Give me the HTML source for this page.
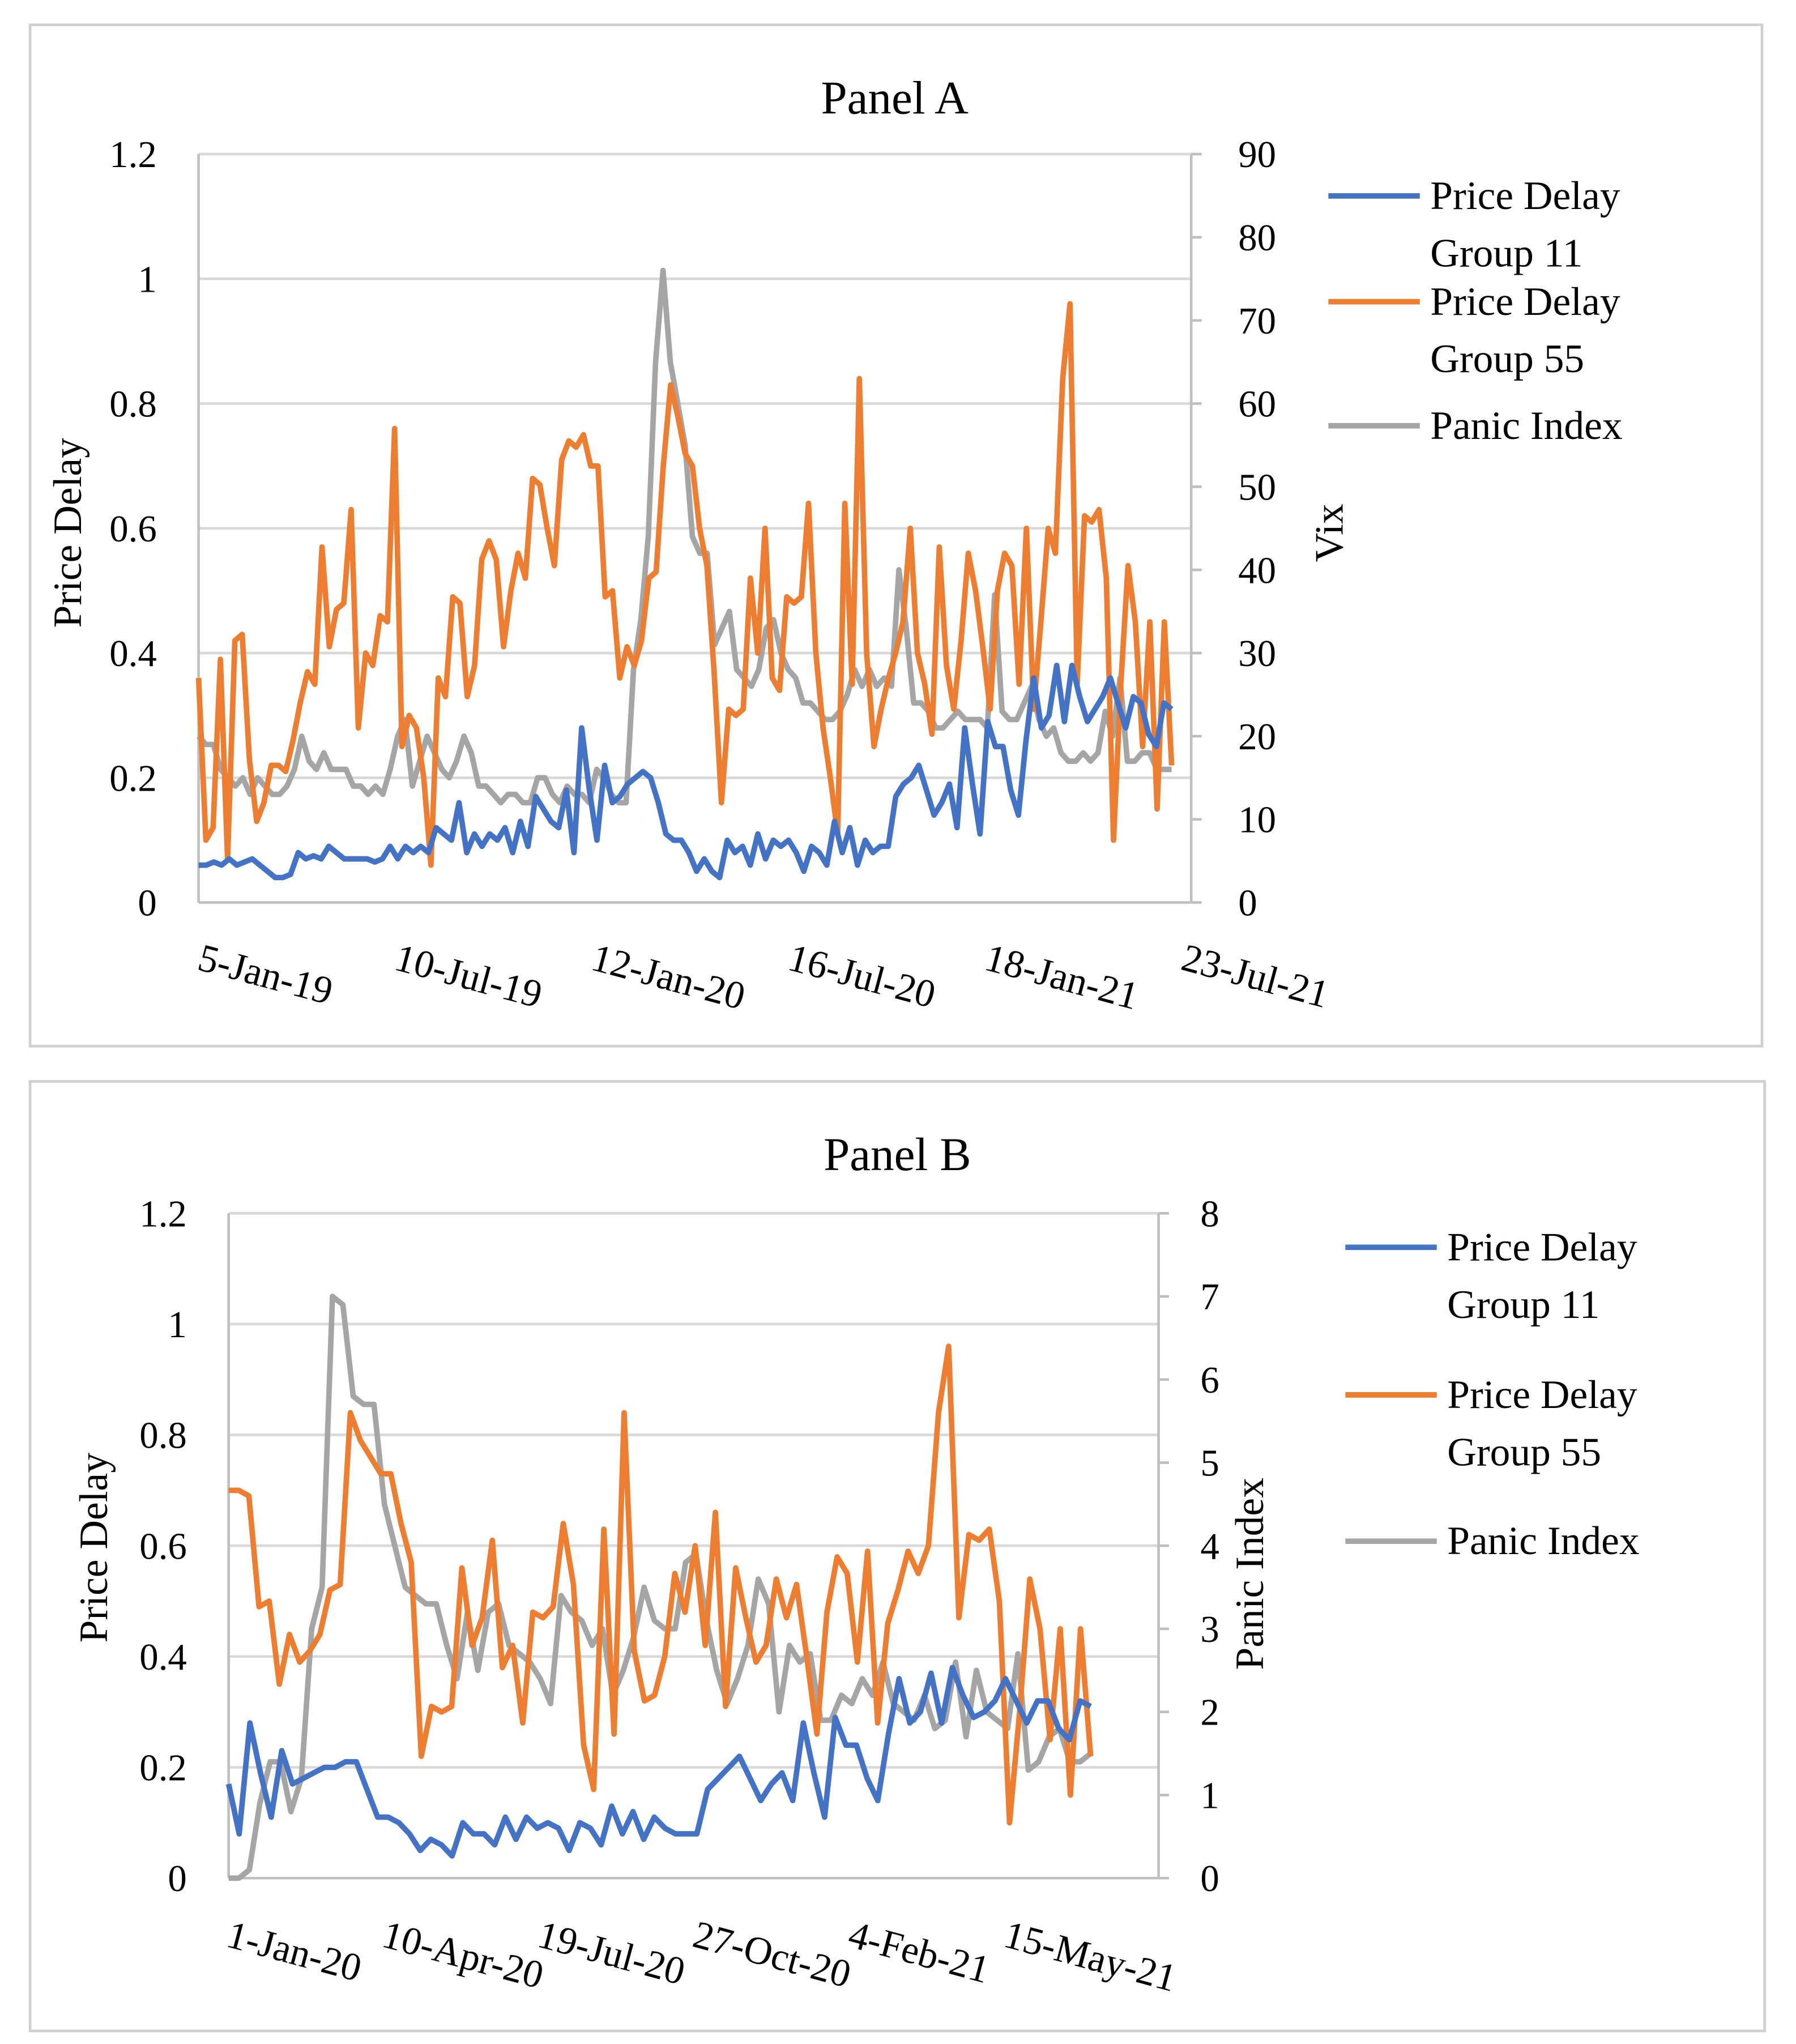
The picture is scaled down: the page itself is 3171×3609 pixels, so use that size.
<!DOCTYPE html>
<html><head><meta charset="utf-8"><style>
html,body{margin:0;padding:0;background:#fff}
svg{display:block}
text{font-family:"Liberation Serif",serif;fill:#000}
</style></head><body>
<svg id="chart" width="3171" height="3609" viewBox="0 0 1375 1565" xmlns="http://www.w3.org/2000/svg">
<rect x="0" y="0" width="1375" height="1565" fill="#fff"/>
<rect x="23" y="19" width="1326" height="782" fill="none" stroke="#d0d0d0" stroke-width="2"/>
<rect x="23" y="828" width="1328" height="727" fill="none" stroke="#d0d0d0" stroke-width="2"/>
<g id="pa"></g><g id="pb"></g>
</svg>
<script>
// Panel A data (weekly)
const aTicksLeft=["0","0.2","0.4","0.6","0.8","1","1.2"];
const aTicksRight=["0","10","20","30","40","50","60","70","80","90"];
const aDates=["5-Jan-19","10-Jul-19","12-Jan-20","16-Jul-20","18-Jan-21","23-Jul-21"];
const aGroup55=[.36,.10,.12,.39,.07,.42,.43,.23,.13,.16,.22,.22,.21,.26,.32,.37,.35,.57,.41,.47,.48,.63,.28,.40,.38,.46,.45,.76,.25,.30,.28,.20,.06,.36,.33,.49,.48,.33,.38,.55,.58,.55,.41,.50,.56,.52,.68,.67,.60,.54,.71,.74,.73,.75,.70,.70,.49,.50,.36,.41,.38,.42,.52,.53,.70,.83,.78,.72,.70,.60,.54,.37,.16,.31,.30,.31,.52,.40,.60,.36,.34,.49,.48,.49,.64,.40,.28,.20,.11,.64,.35,.84,.40,.25,.31,.36,.40,.45,.60,.40,.35,.27,.57,.38,.31,.42,.56,.50,.41,.31,.50,.56,.54,.35,.60,.31,.45,.60,.56,.84,.96,.35,.62,.61,.63,.52,.10,.35,.54,.45,.25,.45,.15,.45,.22];
const aGroup11=[.06,.06,.065,.06,.07,.06,.065,.07,.06,.05,.04,.04,.045,.08,.07,.075,.07,.09,.08,.07,.07,.07,.07,.065,.07,.09,.07,.09,.08,.09,.08,.12,.11,.10,.16,.08,.11,.09,.11,.10,.12,.08,.13,.09,.17,.15,.13,.12,.18,.08,.28,.18,.10,.22,.16,.17,.19,.20,.21,.20,.16,.11,.10,.10,.08,.05,.07,.05,.04,.10,.08,.09,.06,.11,.07,.10,.09,.10,.08,.05,.09,.08,.06,.13,.08,.12,.06,.10,.08,.09,.09,.17,.19,.20,.22,.18,.14,.16,.19,.12,.28,.19,.11,.29,.25,.25,.18,.14,.26,.36,.28,.30,.38,.29,.38,.33,.29,.31,.33,.36,.32,.28,.33,.32,.27,.25,.32,.31];
const aVix=[20,19,19,16,15,14,15,13,15,14,13,13,14,16,20,17,16,18,16,16,16,14,14,13,14,13,16,20,22,14,17,20,18,16,15,17,20,18,14,14,13,12,13,13,12,12,15,15,13,12,14,13,13,12,16,15,13,12,12,28,34,44,65,76,65,60,55,44,42,42,31,33,35,28,27,26,28,33,34,30,28,27,24,24,23,22,22,23,25,28,26,28,26,27,26,40,33,24,24,23,21,21,22,23,22,22,22,21,37,23,22,22,24,26,22,20,21,18,17,17,18,17,18,23,20,27,17,17,18,18,16,16,16];
// Panel B data (weekly from 1-Jan-20)
const bTicksLeft=["0","0.2","0.4","0.6","0.8","1","1.2"];
const bTicksRight=["0","1","2","3","4","5","6","7","8"];
const bDates=["1-Jan-20","10-Apr-20","19-Jul-20","27-Oct-20","4-Feb-21","15-May-21"];
const bGroup55=[.70,.70,.69,.49,.50,.35,.44,.39,.41,.44,.52,.53,.84,.79,.76,.73,.73,.64,.57,.22,.31,.30,.31,.56,.42,.47,.61,.38,.42,.28,.48,.47,.49,.64,.53,.24,.16,.63,.26,.84,.41,.32,.33,.40,.55,.48,.60,.42,.66,.31,.56,.47,.39,.42,.54,.47,.53,.40,.26,.48,.58,.55,.39,.59,.28,.46,.52,.59,.55,.60,.84,.96,.47,.62,.61,.63,.50,.10,.30,.54,.45,.25,.45,.15,.45,.22];
const bGroup11=[.17,.08,.28,.19,.11,.23,.17,.18,.19,.20,.20,.21,.21,.16,.11,.11,.10,.08,.05,.07,.06,.04,.10,.08,.08,.06,.11,.07,.11,.09,.10,.09,.05,.10,.09,.06,.13,.08,.12,.07,.11,.09,.08,.08,.08,.16,.18,.20,.22,.18,.14,.17,.19,.14,.28,.19,.11,.29,.24,.24,.18,.14,.26,.36,.28,.30,.37,.28,.38,.33,.29,.30,.32,.36,.32,.28,.32,.32,.27,.25,.32,.31];
const bPanic=[0,0,0.1,0.9,1.4,1.4,0.8,1.2,3.0,3.5,7.0,6.9,5.8,5.7,5.7,4.5,4.0,3.5,3.4,3.3,3.3,2.8,2.4,3.2,2.5,3.2,3.3,2.8,2.7,2.6,2.4,2.1,3.4,3.2,3.1,2.8,3.0,2.2,2.5,2.9,3.5,3.1,3.0,3.0,3.8,3.9,3.1,2.5,2.1,2.4,2.8,3.6,3.3,2.0,2.8,2.6,2.7,1.9,1.9,2.2,2.1,2.4,2.2,2.6,2.1,2.0,1.9,2.2,1.8,1.9,2.6,1.7,2.5,2.0,1.9,1.8,2.7,1.3,1.4,1.7,1.8,1.4,1.4,1.5];

const NS="http://www.w3.org/2000/svg";
function mk(parent,tag,attrs,txt){const e=document.createElementNS(NS,tag);for(const k in attrs)e.setAttribute(k,attrs[k]);if(txt!==undefined)e.textContent=txt;parent.appendChild(e);return e;}

function drawPanel(g,cfg){
  const {x0,x1,y0,y1,xEnd,lMax,rMax}=cfg;
  const yL=v=>y0-(v/lMax)*(y0-y1);
  const yR=v=>y0-(v/rMax)*(y0-y1);
  const t=mk(g,'text',{x:cfg.titleX,y:cfg.titleY,'font-size':36,'text-anchor':'middle'},cfg.title);
  
  
  cfg.ticksL.forEach(s=>{
    const v=parseFloat(s),y=yL(v);
    if(v>0){const gl=mk(g,'line',{x1:x0,x2:x1,y1:y,y2:y,stroke:'#d9d9d9','stroke-width':2});
      
      }
    const tl=mk(g,'text',{x:x0-32,y:y+10,'font-size':29,'text-anchor':'end'},s);
    
    
  });
  cfg.ticksR.forEach(s=>{
    const v=parseFloat(s),y=yR(v);
    const tk=mk(g,'line',{x1:x1,x2:x1+8,y1:y,y2:y,stroke:'#bfbfbf','stroke-width':2});
    
    
    const tr=mk(g,'text',{x:x1+cfg.rLabOff,y:y+10,'font-size':29,'text-anchor':'start'},s);
    
    
  });
  const ax=mk(g,'line',{x1:x0,x2:x1,y1:y0,y2:y0,stroke:'#bfbfbf','stroke-width':2});
  
  
  const al=mk(g,'line',{x1:x0,x2:x0,y1:y1,y2:y0,stroke:'#bfbfbf','stroke-width':2});
  
  
  const ar=mk(g,'line',{x1:x1,x2:x1,y1:y1,y2:y0,stroke:'#bfbfbf','stroke-width':2});
  
  
  cfg.dates.forEach((d,i)=>{
    const x=cfg.dX0+i*cfg.dStep,y=cfg.dY;
    const dl=mk(g,'text',{x:x,y:y,'font-size':30,transform:`rotate(15 ${x} ${y})`},d);
    
    
  });
  const lt=mk(g,'text',{x:cfg.lTitleX,y:cfg.lTitleY,'font-size':31,'text-anchor':'middle',transform:`rotate(-90 ${cfg.lTitleX} ${cfg.lTitleY})`},'Price Delay');
  
  
  const rt=mk(g,'text',{x:cfg.rTitleX,y:cfg.rTitleY,'font-size':31,'text-anchor':'middle',transform:`rotate(-90 ${cfg.rTitleX} ${cfg.rTitleY})`},cfg.rTitle);
  
  
  const series=[[cfg.s11,yL,'#4472C4','series-group-11'],[cfg.s55,yL,'#ED7D31','series-group-55'],[cfg.sR,yR,'#A5A5A5','series-panic-index']];
  const order=[2,1,0];
  order.forEach(k=>{
    const [arr,ys,col,name]=series[k];
    const n=arr.length;
    const xs=i=>x0+i*(xEnd-x0)/(n-1);
    const pts=arr.map((v,i)=>xs(i).toFixed(1)+','+ys(v).toFixed(1)).join(' ');
    const pl=mk(g,'polyline',{points:pts,fill:'none',stroke:col,'stroke-width':4.2,'stroke-linejoin':'round'});
    
    
  });
  const lg=mk(g,'g',{});
  
  
  const items=[['#4472C4',['Price Delay','Group 11']],['#ED7D31',['Price Delay','Group 55']],['#A5A5A5',['Panic Index']]];
  items.forEach((it,i)=>{
    const y=cfg.legY[i];
    const ln=mk(lg,'line',{x1:cfg.legX,x2:cfg.legX+70,y1:y,y2:y,stroke:it[0],'stroke-width':4.2});
    
    
    it[1].forEach((s,j)=>{
      const tx=mk(lg,'text',{x:cfg.legX+78,y:y+10+j*cfg.legLine,'font-size':31},s);
      
      
    });
  });
}
drawPanel(document.getElementById('pa'),{x0:152,x1:912,y0:691,y1:118,xEnd:897,lMax:1.2,rMax:90,
  title:'Panel A',titleX:685,titleY:87,ticksL:aTicksLeft,ticksR:aTicksRight,rLabOff:36,
  dates:aDates,dX0:150,dStep:150.6,dY:742,lTitleX:62,lTitleY:408,rTitleX:1028,rTitleY:408,rTitle:'Vix',
  s11:aGroup11,s55:aGroup55,sR:aVix,legX:1017,legY:[150,231,326],legLine:44});
drawPanel(document.getElementById('pb'),{x0:175,x1:887,y0:1438,y1:929,xEnd:835,lMax:1.2,rMax:8,
  title:'Panel B',titleX:687,titleY:896,ticksL:bTicksLeft,ticksR:bTicksRight,rLabOff:32,
  dates:bDates,dX0:172,dStep:119,dY:1490,lTitleX:82,lTitleY:1185,rTitleX:967,rTitleY:1205,rTitle:'Panic Index',
  s11:bGroup11,s55:bGroup55,sR:bPanic,legX:1030,legY:[955,1068,1180],legLine:44});
</script>
</body></html>
